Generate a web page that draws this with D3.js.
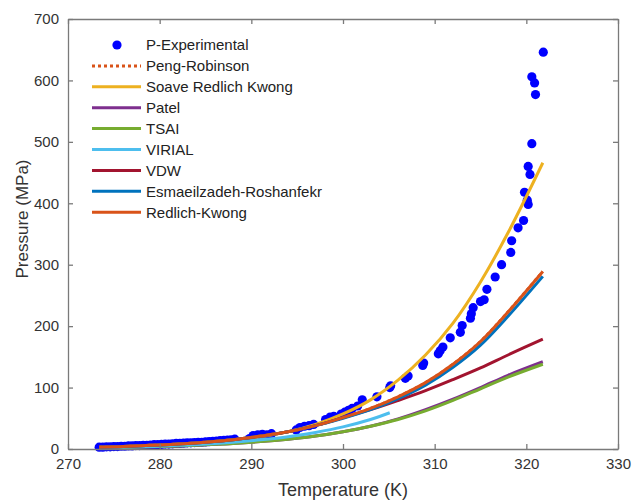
<!DOCTYPE html>
<html><head><meta charset="utf-8">
<script src="https://cdn.jsdelivr.net/npm/d3@7"></script>
<style>body{margin:0;background:#fff}svg{display:block;font-family:"Liberation Sans",Arial,sans-serif}</style>
</head><body>
<svg id="c" width="634" height="501"></svg>
<script>
// Experimental data
const expT = [273.4,273.8,274.2,274.6,275.0,275.4,275.8,276.2,276.6,277.0,277.4,277.8,278.2,278.6,279.0,279.4,279.8,280.2,280.6,281.0,281.4,281.8,282.2,282.6,283.0,283.4,283.8,284.2,284.6,285.0,285.4,285.8,286.2,286.6,287.0,287.4,287.8,288.2,
  289.8,290.2,290.7,291.2,291.7,292.2,294.9,295.3,295.8,296.3,296.8,298.1,298.6,299.0,299.8,300.2,300.6,301.0,301.6,302.1,303.7,305.1,305.2,306.8,307.1,308.7,308.8,310.4,310.6,310.9,311.7,312.8,313.0,313.9,314.0,314.2,315.0,315.4,315.7,316.6,317.3,318.3,318.4,319.1,319.7,319.8,320.1,320.2,320.2,320.4,320.6,320.6,320.9,321.0,321.85];
const expP = [3,3,3.5,3.5,4,4,4.5,4.5,5,5,5.5,5.5,6,6,6.5,7,7,7.5,8,8,8.5,9,9,9.5,10,10,10.5,11,11,11.5,12,12.5,13,13.5,14,14.5,15,16,
  17,22,23,24,23,25,31,35,37,38,40,48,52,53,57,60,63,66,70,80,85,100,103,115,119,136,140,155,160,166,181,190,201,213,220,230,240,243,260,280,300,320,339,360,372,418,405,398,460,447,497,606,596,577,646];

// Model curves
const modelT = [273.4,276,279,282,285,288,291,294,297,300,303,306,309,312,315,318,321.8];
const pengRobinson = [3,4,6,8,11,15,21,28,38,51,66,85,108,138,175,223,289];
const soaveRK      = [3,4,6,8,11,15,20,28,40,57,80,112,153,205,272,352,466];
const patel        = [2,2.5,3.5,5,7,9,12,16,21,28,37,49,64,81,100,120,142];
const tsai         = [2,2.5,3.5,5,7,9,12,16,21,28,37,48,62,79,98,117,138];
const virialT      = [273.4,276,279,282,285,288,291,294,297,300,303,305.1];
const virial       = [2,3,4,6,8,11,15,20,27,36,48,59];
const vdw          = [3,4,6,8,11,15,21,28,38,51,64,79,95,113,132,153,179];
const esmaeilzadeh = [3,4,6,8,11,15,21,28,38,50,64,82,104,133,169,216,281];
const redlichKwong = [3,4,6,8,11,15,21,28,38,51,66,85,108,138,175,223,289];

const xTicks = [270,280,290,300,310,320,330];
const yTicks = [0,100,200,300,400,500,600,700];

const svg = d3.select("#c");
const L=68,R=618,T=19,B=449;
const x = d3.scaleLinear().domain([270,330]).range([L,R]);
const y = d3.scaleLinear().domain([0,700]).range([B,T]);
const axisCol = "#7a7a7a", textCol = "#333";

const series = [
  {name:"Peng-Robinson", xs:modelT, ys:pengRobinson, color:"#D95319", dash:"3,3"},
  {name:"Soave Redlich Kwong", xs:modelT, ys:soaveRK, color:"#EDB120"},
  {name:"Patel", xs:modelT, ys:patel, color:"#7E2F8E"},
  {name:"TSAI", xs:modelT, ys:tsai, color:"#77AC30"},
  {name:"VIRIAL", xs:virialT, ys:virial, color:"#4DBEEE"},
  {name:"VDW", xs:modelT, ys:vdw, color:"#A2142F"},
  {name:"Esmaeilzadeh-Roshanfekr", xs:modelT, ys:esmaeilzadeh, color:"#0072BD"},
  {name:"Redlich-Kwong", xs:modelT, ys:redlichKwong, color:"#D95319"}
];

// experimental points
svg.append("g").selectAll("circle").data(expT).join("circle")
  .attr("cx",(d)=>x(d)).attr("cy",(d,i)=>y(expP[i])).attr("r",4.6).attr("fill","#0000FF");

const line = d3.line().curve(d3.curveCatmullRom.alpha(0.5));
series.forEach(s=>{
  svg.append("path").attr("d", line(s.xs.map((t,i)=>[x(t),y(s.ys[i])])))
    .attr("fill","none").attr("stroke",s.color).attr("stroke-width",3)
    .attr("stroke-dasharray", s.dash||null);
});

// axes (box, inward ticks)
const fmt = d3.format("d");
const gb = svg.append("g").attr("transform",`translate(0,${B})`).call(d3.axisBottom(x).tickValues(xTicks).tickFormat(fmt).tickSizeInner(-5).tickSizeOuter(0).tickPadding(9));
const gt = svg.append("g").attr("transform",`translate(0,${T})`).call(d3.axisTop(x).tickValues(xTicks).tickFormat("").tickSizeInner(-5).tickSizeOuter(0));
const gl = svg.append("g").attr("transform",`translate(${L},0)`).call(d3.axisLeft(y).tickValues(yTicks).tickFormat(fmt).tickSizeInner(-5).tickSizeOuter(0).tickPadding(9));
const gr = svg.append("g").attr("transform",`translate(${R},0)`).call(d3.axisRight(y).tickValues(yTicks).tickFormat("").tickSizeInner(-5).tickSizeOuter(0));
[gb,gt,gl,gr].forEach(g=>{
  g.selectAll("path").attr("stroke",axisCol).attr("stroke-width",1.3);
  g.selectAll("line").attr("stroke",axisCol).attr("stroke-width",1.3);
  g.selectAll("text").attr("fill",textCol).attr("font-size",15).attr("font-family","Liberation Sans, Arial, sans-serif");
});

svg.append("text").attr("x",(L+R)/2).attr("y",496).attr("text-anchor","middle")
  .attr("font-size",18).attr("fill",textCol).text("Temperature (K)");
svg.append("text").attr("transform",`translate(28,219) rotate(-90)`).attr("text-anchor","middle")
  .attr("font-size",17).attr("fill",textCol).text("Pressure (MPa)");

// legend
const lg = svg.append("g");
const rowY = i => 45 + i*20.9;
lg.append("circle").attr("cx",117).attr("cy",rowY(0)).attr("r",4.6).attr("fill","#0000FF");
lg.append("text").attr("x",146).attr("y",rowY(0)).attr("dy","0.36em").attr("font-size",15).attr("fill","#222").text("P-Experimental");
series.forEach((s,i)=>{
  const yy = rowY(i+1);
  lg.append("line").attr("x1",92).attr("x2",141).attr("y1",yy).attr("y2",yy)
    .attr("stroke",s.color).attr("stroke-width",3).attr("stroke-dasharray",s.dash||null);
  lg.append("text").attr("x",146).attr("y",yy).attr("dy","0.36em").attr("font-size",15).attr("fill","#222").text(s.name);
});
</script>
</body></html>
